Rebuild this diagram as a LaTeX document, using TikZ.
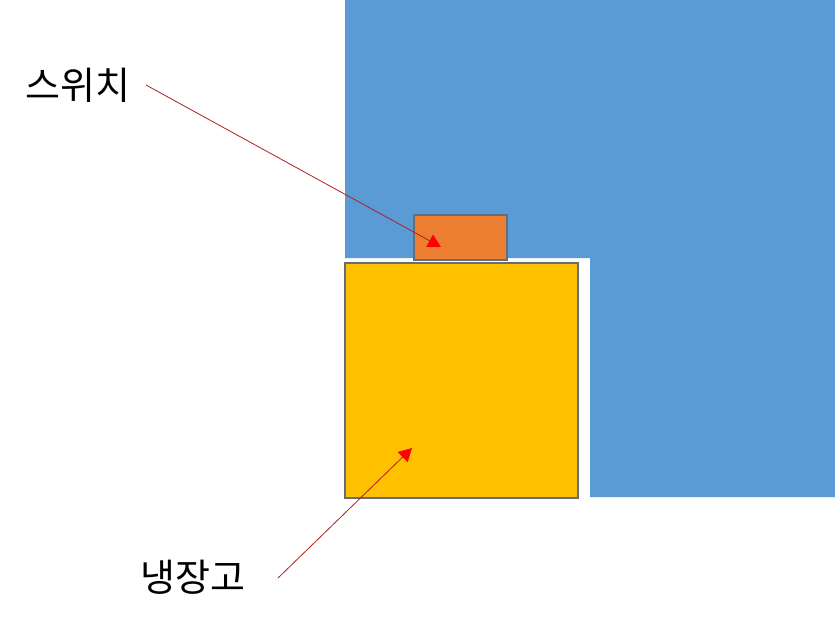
\documentclass[tikz,border=0pt]{standalone}
\usepackage{fontspec}
\newfontfamily\kor{Noto Sans CJK KR}
\usetikzlibrary{arrows.meta}
\definecolor{wallblue}{RGB}{91,155,213}
\definecolor{fridge}{RGB}{255,192,0}
\definecolor{switchc}{RGB}{237,125,49}
\definecolor{edgegray}{RGB}{100,110,120}
\definecolor{arrowred}{RGB}{220,40,40}
\tikzset{
  lbl/.style={font=\kor\fontsize{38}{44}\selectfont, text=black, inner sep=0pt},
  pointer/.style={draw=arrowred!80!black, line width=0.8pt, -{Triangle[length=13pt,width=14pt,fill=red,color=red]}},
  boxedge/.style={draw=edgegray, line width=1.6pt}
}
\begin{document}
\begin{tikzpicture}[x=1pt,y=-1pt]
\useasboundingbox (0,0) rectangle (835,621);
% wall
\fill[wallblue] (345,0) -- (835,0) -- (835,497) -- (590,497) -- (590,258) -- (345,258) -- cycle;
% switch
\node[boxedge, fill=switchc, minimum width=93pt, minimum height=45pt, inner sep=0pt, anchor=north west] (sw) at (413,214) {};
% fridge
\node[boxedge, fill=fridge, minimum width=233pt, minimum height=235pt, inner sep=0pt, anchor=north west] (fr) at (344,262) {};
% labels
\node[lbl] (lsw) at (78,85) {스위치};
\node[lbl] (lfr) at (193,577) {냉장고};
\coordinate (swstart) at (146,85);
\coordinate (swtip) at (441,247);
\coordinate (frstart) at (278,578);
\coordinate (frtip) at (412,448);
\draw[pointer] (swstart) -- (swtip);
\draw[pointer] (frstart) -- (frtip);
\end{tikzpicture}
\end{document}
